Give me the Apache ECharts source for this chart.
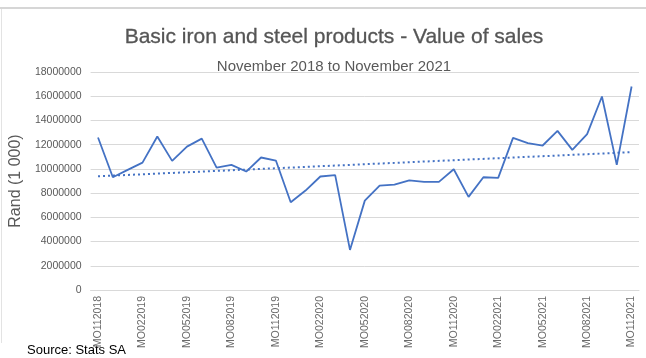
<!DOCTYPE html>
<html>
<head>
<meta charset="utf-8">
<script src="https://cdn.jsdelivr.net/npm/echarts@6/dist/echarts.min.js"></script>
<style>
html,body{margin:0;padding:0;background:#fff;}
#chart{width:646px;height:358px;}
</style>
</head>
<body>
<div id="chart"></div>
<script>
var categories = [
  "MO112018","MO122018","MO012019","MO022019","MO032019","MO042019","MO052019","MO062019","MO072019",
  "MO082019","MO092019","MO102019","MO112019","MO122019","MO012020","MO022020","MO032020","MO042020",
  "MO052020","MO062020","MO072020","MO082020","MO092020","MO102020","MO112020","MO122020","MO012021",
  "MO022021","MO032021","MO042021","MO052021","MO062021","MO072021","MO082021","MO092021","MO102021",
  "MO112021"
];
var salesValues = [
  12590000, 9310000, 9920000, 10520000, 12670000, 10660000, 11840000, 12500000, 10110000,
  10330000, 9780000, 10940000, 10690000, 7250000, 8210000, 9370000, 9480000, 3310000,
  7380000, 8620000, 8700000, 9060000, 8930000, 8930000, 9970000, 7690000, 9310000,
  9260000, 12560000, 12120000, 11930000, 13140000, 11570000, 12870000, 15980000, 10330000,
  16800000
];
var trendEnds = [9390000, 11380000];
var yTicks = [0, 2000000, 4000000, 6000000, 8000000, 10000000, 12000000, 14000000, 16000000, 18000000];
var titleText = "Basic iron and steel products - Value of sales";
var subtitleText = "November 2018 to November 2021";
var yAxisName = "Rand (1 000)";
var sourceText = "Source: Stats SA";

var trendData = categories.map(function (c, i) {
  if (i === 0) return trendEnds[0];
  if (i === categories.length - 1) return trendEnds[1];
  return null;
});

var chart = echarts.init(document.getElementById('chart'), null, {renderer: 'canvas'});
var font = '"Liberation Sans", Arial, sans-serif';
chart.setOption({
  animation: false,
  backgroundColor: '#ffffff',
  textStyle: {fontFamily: font},
  title: [
    {text: titleText, left: 329, top: 22, textAlign: 'center',
     textStyle: {fontFamily: font, fontSize: 21, fontWeight: 'normal', color: '#555555',
       textBorderColor: '#555555', textBorderWidth: 0.3}},
    {text: subtitleText, left: 329, top: 54, textAlign: 'center',
     textStyle: {fontFamily: font, fontSize: 15, fontWeight: 'normal', color: '#595959'}}
  ],
  graphic: [
    {type: 'line', shape: {x1: 0, y1: 8, x2: 646, y2: 8}, style: {stroke: '#d6d6d6', lineWidth: 2}},
    {type: 'line', shape: {x1: 1.5, y1: 9, x2: 1.5, y2: 343}, style: {stroke: '#e3e3e3', lineWidth: 1}},
    {type: 'text', left: 27, top: 344, style: {text: sourceText, font: '13px ' + font, fill: '#000000'}}
  ],
  grid: {left: 89, right: 7, top: 72, bottom: 68, containLabel: false},
  xAxis: {
    type: 'category',
    data: categories,
    boundaryGap: true,
    axisLine: {lineStyle: {color: '#d9d9d9', width: 1}},
    axisTick: {show: false},
    axisLabel: {interval: 2, rotate: 90, fontSize: 10.5, color: '#6a6a6a', margin: 6, fontFamily: font}
  },
  yAxis: {
    type: 'value',
    min: yTicks[0],
    max: yTicks[yTicks.length - 1],
    interval: yTicks[1] - yTicks[0],
    name: yAxisName,
    nameLocation: 'middle',
    nameGap: 66,
    nameTextStyle: {fontSize: 16, color: '#595959', fontFamily: font},
    axisLine: {show: false},
    axisTick: {show: false},
    axisLabel: {fontSize: 10.5, color: '#595959', margin: 9, fontFamily: font,
      formatter: function (v) { return String(v); }},
    splitLine: {lineStyle: {color: '#d9d9d9', width: 1}}
  },
  series: [
    {type: 'line', data: salesValues, symbol: 'none', lineStyle: {color: '#4472C4', width: 1.8}, z: 3},
    {type: 'line', data: trendData, connectNulls: true, symbol: 'none',
     lineStyle: {color: '#4472C4', width: 2, type: [2, 3]}, z: 2}
  ]
});
</script>
</body>
</html>
